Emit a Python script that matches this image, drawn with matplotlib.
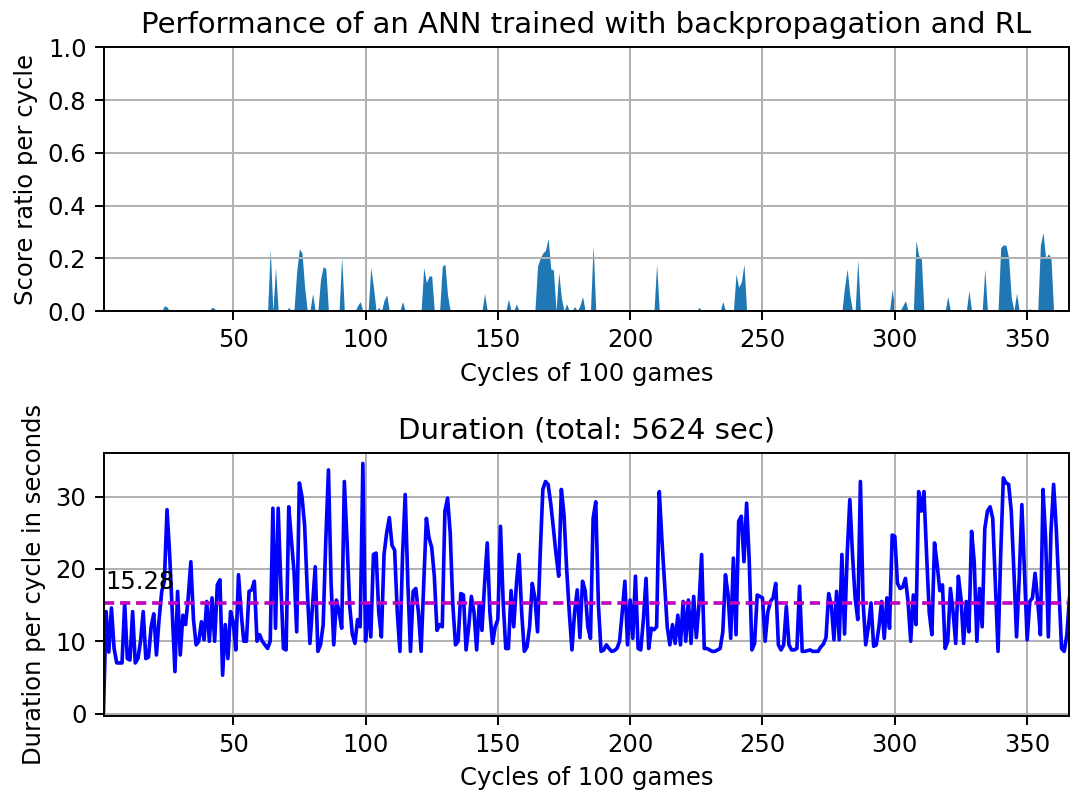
import numpy as np
import matplotlib
matplotlib.use('Agg')
import matplotlib.pyplot as plt

# duration (seconds) of each cycle of 100 games, cycles 1..366
durations = [
    0.3, 14.1, 8.5, 14.6, 9.0, 7.0, 7.0, 7.0, 15.3, 7.6,
    7.4, 14.1, 7.0, 7.6, 10.0, 14.1, 7.6, 7.8, 12.0, 13.8,
    8.1, 13.0, 16.9, 18.3, 28.2, 22.0, 14.0, 5.8, 16.9, 8.1,
    13.6, 12.3, 16.0, 21.0, 13.0, 9.5, 10.0, 12.7, 10.2, 15.5,
    10.0, 16.0, 10.0, 17.8, 18.5, 5.3, 12.3, 7.6, 14.1, 12.7,
    8.8, 19.2, 14.0, 10.0, 10.0, 16.9, 17.1, 18.3, 10.0, 10.9,
    10.0, 9.5, 9.0, 10.0, 28.4, 11.8, 28.4, 18.0, 9.0, 8.8,
    28.6, 24.0, 19.6, 11.3, 31.9, 30.0, 26.0, 17.0, 9.7, 15.0,
    20.3, 8.6, 9.5, 12.3, 24.0, 33.7, 18.0, 9.5, 15.7, 14.1,
    11.8, 32.1, 24.0, 15.0, 11.0, 9.7, 13.0, 12.0, 34.6, 10.0,
    15.0, 10.6, 22.0, 22.2, 14.0, 10.6, 22.0, 25.0, 27.1, 23.3,
    22.6, 14.0, 8.6, 22.0, 30.3, 18.0, 8.6, 16.9, 17.3, 14.0,
    8.6, 18.0, 27.0, 24.3, 23.0, 19.0, 11.5, 12.3, 12.0, 28.0,
    29.8, 25.0, 15.0, 9.5, 10.0, 16.6, 16.4, 8.8, 12.0, 16.2,
    14.0, 8.8, 15.3, 11.5, 18.0, 23.6, 14.0, 9.7, 12.0, 13.0,
    25.9, 15.5, 9.0, 9.0, 17.0, 12.0, 17.8, 22.0, 14.0, 8.6,
    9.2, 12.0, 18.0, 16.0, 11.3, 22.0, 31.0, 32.1, 31.7, 29.0,
    25.6, 22.0, 19.0, 31.0, 27.5, 20.0, 14.0, 8.8, 14.0, 17.1,
    10.5, 18.3, 17.0, 12.0, 10.4, 27.0, 29.3, 15.0, 8.6, 8.8,
    9.5, 9.0, 8.6, 8.7, 9.0, 10.0, 14.0, 18.3, 9.5, 15.7,
    10.4, 19.0, 9.0, 8.8, 13.0, 18.7, 9.0, 11.8, 11.6, 12.0,
    30.7, 24.0, 18.0, 12.0, 9.5, 12.3, 9.7, 13.6, 9.5, 15.5,
    10.0, 15.7, 9.7, 16.2, 10.5, 15.0, 22.0, 9.0, 9.0, 8.8,
    8.6, 8.6, 8.8, 9.0, 11.3, 19.2, 16.4, 10.4, 21.5, 10.9,
    26.6, 27.3, 21.0, 29.1, 21.0, 8.8, 9.7, 16.4, 16.2, 16.0,
    10.0, 14.0, 15.5, 16.0, 18.0, 9.5, 8.8, 9.5, 14.8, 9.5,
    8.8, 8.8, 9.0, 17.6, 8.6, 8.6, 8.7, 8.8, 8.6, 8.6,
    8.6, 9.2, 9.6, 10.5, 16.6, 15.0, 10.2, 16.9, 10.2, 22.0,
    11.0, 22.0, 29.6, 22.0, 16.0, 13.0, 32.1, 15.5, 9.5, 12.0,
    15.3, 9.3, 9.5, 12.0, 15.5, 10.4, 16.0, 11.8, 24.7, 24.5,
    18.0, 17.3, 17.5, 18.7, 15.5, 10.0, 16.4, 12.3, 30.7, 28.0,
    30.7, 22.0, 14.0, 10.9, 23.6, 20.6, 17.0, 17.8, 9.0, 10.0,
    17.3, 14.1, 9.7, 19.0, 15.9, 9.7, 15.5, 11.3, 25.2, 21.0,
    10.0, 17.3, 12.0, 25.6, 28.0, 28.6, 27.0, 17.8, 8.6, 22.0,
    32.6, 31.9, 31.7, 28.0, 19.6, 10.6, 18.7, 28.9, 19.6, 10.2,
    15.5, 16.0, 19.4, 15.5, 10.9, 31.0, 24.0, 10.6, 25.2, 31.7,
    25.6, 17.3, 9.0, 8.6, 10.9, 16.0,
]

# cycles with a non-zero score ratio (all others are 0)
score_cycles = [24, 25, 32, 42, 43, 45, 64, 66, 71, 73, 74, 75, 76, 77, 80,
                83, 84, 85, 91, 97, 98, 102, 103, 105, 107, 108, 114, 122,
                123, 124, 125, 129, 130, 131, 145, 154, 157, 165, 166, 167,
                168, 169, 170, 171, 173, 174, 176, 179, 181, 182, 186, 210,
                226, 235, 240, 241, 242, 243, 253, 281, 282, 283, 286, 299,
                303, 304, 308, 309, 310, 320, 328, 334, 340, 341, 342, 343,
                344, 346, 351, 355, 356, 357, 358, 359]
score_values = [0.02, 0.015, 0.006, 0.015, 0.008, 0.006, 0.236, 0.165, 0.014,
                0.008, 0.15, 0.236, 0.22, 0.09, 0.066, 0.12, 0.168, 0.16,
                0.204, 0.02, 0.036, 0.165, 0.09, 0.014, 0.04, 0.062, 0.036,
                0.165, 0.107, 0.133, 0.133, 0.17, 0.178, 0.06, 0.066, 0.045,
                0.027, 0.17, 0.2, 0.22, 0.23, 0.275, 0.16, 0.155, 0.146, 0.05,
                0.027, 0.017, 0.02, 0.055, 0.249, 0.178, 0.014, 0.036, 0.14,
                0.09, 0.11, 0.178, 0.006, 0.09, 0.159, 0.06, 0.195, 0.084,
                0.02, 0.039, 0.268, 0.21, 0.2, 0.055, 0.077, 0.159, 0.24,
                0.251, 0.249, 0.2, 0.05, 0.068, 0.009, 0.25, 0.298, 0.2,
                0.217, 0.2]

mean_duration = 15.28
total_duration = 5624

cycles = np.arange(1, len(durations) + 1)
score = np.zeros(len(cycles))
score[np.array(score_cycles) - 1] = score_values

W, H, DPI = 1070, 796, 175
fig = plt.figure(figsize=(W / DPI, H / DPI), dpi=DPI)

def box(left, top, right, bottom):
    return [left / W, (H - bottom) / H, (right - left) / W, (bottom - top) / H]

# top: score ratio
ax1 = fig.add_axes(box(103.5, 47.3, 1069.5, 311))
ax1.fill_between(cycles, score, color='#1f77b4', lw=0)
ax1.set_xlim(1, len(cycles))
ax1.set_ylim(0, 1)
ax1.grid(True)
ax1.set_title('Performance of an ANN trained with backpropagation and RL')
ax1.set_xlabel('Cycles of 100 games')
ax1.set_ylabel('Score ratio per cycle')

# bottom: duration
ax2 = fig.add_axes(box(103.5, 453.3, 1069.5, 715.7))
ax2.plot(cycles, durations, color='blue')
ax2.axhline(mean_duration, color='m', linestyle=(0, (2.8, 1.6)))
ax2.text(1.5, mean_duration + 1.9, '%.2f' % mean_duration)
ax2.set_xlim(1, len(cycles))
ax2.set_ylim(-0.3, 36.0)
ax2.grid(True)
ax2.set_title('Duration (total: %d sec)' % total_duration)
ax2.set_xlabel('Cycles of 100 games')
ax2.set_ylabel('Duration per cycle in seconds')

fig.savefig('out.png', dpi=DPI)
